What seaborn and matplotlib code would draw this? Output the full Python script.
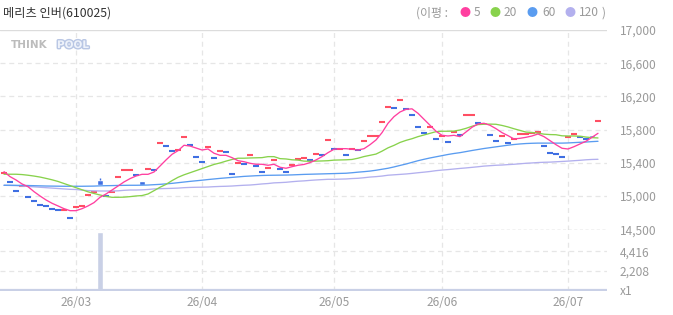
import numpy as np
import matplotlib
matplotlib.use('Agg')
import matplotlib.pyplot as plt
import matplotlib.patheffects as pe
import seaborn as sns

sns.set_style('white')
plt.rcParams['font.family'] = ['Noto Sans CJK KR', 'DejaVu Sans']

# ---- data ----
title = '메리츠 인버(610025)'
month_labels = ['26/03', '26/04', '26/05', '26/06', '26/07']
month_idx = [12, 33, 55, 73, 94]

closes = [15277, 15169, 15060, 15120, 14985, 14940, 14890, 14875, 14843, 14830,
          14835, 14731, 14864, 14876, 15008, 15048, 15133, 15000, 15052, 15225,
          15310, 15310, 15249, 15133, 15322, 15310, 15635, 15599, 15539, 15551,
          15707, 15611, 15466, 15406, 15588, 15455, 15539, 15527, 15261, 15394,
          15382, 15490, 15358, 15286, 15334, 15430, 15322, 15286, 15370, 15442,
          15455, 15430, 15502, 15490, 15671, 15563, 15563, 15490, 15563, 15554,
          15659, 15719, 15719, 15888, 16069, 16057, 16153, 16045, 15972, 15828,
          15755, 15828, 15683, 15723, 15647, 15768, 15731, 15972, 15972, 15876,
          15895, 15731, 15659, 15723, 15635, 15683, 15747, 15747, 15760, 15768,
          15599, 15515, 15502, 15466, 15707, 15743, 15707, 15683, 15707, 15900]

# days that had a real candle body (open differs from close)
body_idx = [16, 23, 80, 98]
body_open = [15193, 15181, 15870, 15735]
wick_idx = [16]
wick_high = [15217]

ma5 = [15293, 15233, 15193, 15145, 15112, 15052, 15000, 14952, 14912, 14880,
       14847, 14823, 14823, 14847, 14880, 14920, 14984, 15024, 15072, 15120,
       15169, 15209, 15241, 15261, 15261, 15289, 15361, 15434, 15502, 15546,
       15611, 15602, 15578, 15554, 15566, 15515, 15490, 15490, 15462, 15425,
       15413, 15394, 15382, 15382, 15370, 15382, 15346, 15334, 15353, 15370,
       15380, 15402, 15434, 15474, 15522, 15563, 15570, 15570, 15563, 15554,
       15570, 15618, 15675, 15763, 15876, 15956, 16012, 16044, 16050, 15996,
       15924, 15852, 15780, 15731, 15723, 15731, 15715, 15771, 15828, 15868,
       15876, 15852, 15811, 15763, 15727, 15687, 15695, 15707, 15723, 15747,
       15715, 15667, 15618, 15575, 15566, 15594, 15627, 15659, 15707, 15755]

ma20 = [15262, 15262, 15262, 15258, 15250, 15240, 15228, 15212, 15195, 15175,
        15150, 15125, 15100, 15075, 15050, 15030, 15012, 14995, 14984, 14984,
        14986, 14992, 15000, 15005, 15024, 15064, 15105, 15140, 15185, 15225,
        15255, 15280, 15305, 15330, 15355, 15380, 15398, 15420, 15440, 15455,
        15455, 15458, 15460, 15462, 15474, 15474, 15450, 15446, 15436, 15432,
        15420, 15418, 15420, 15422, 15425, 15432, 15434, 15436, 15440, 15455,
        15475, 15490, 15505, 15540, 15580, 15610, 15645, 15670, 15690, 15715,
        15735, 15755, 15775, 15780, 15780, 15782, 15795, 15815, 15840, 15860,
        15864, 15866, 15864, 15850, 15832, 15810, 15790, 15770, 15765, 15757,
        15745, 15740, 15738, 15725, 15723, 15723, 15720, 15710, 15703, 15699]

ma60 = [15129, 15129, 15128, 15127, 15126, 15124, 15122, 15120, 15119, 15118,
        15117, 15117, 15117, 15117, 15118, 15119, 15122, 15124, 15125, 15127,
        15128, 15129, 15129, 15130, 15132, 15136, 15140, 15146, 15152, 15160,
        15168, 15176, 15183, 15190, 15198, 15205, 15212, 15218, 15224, 15230,
        15236, 15240, 15244, 15247, 15249, 15250, 15251, 15252, 15254, 15257,
        15260, 15262, 15264, 15266, 15268, 15270, 15272, 15274, 15280, 15287,
        15293, 15300, 15310, 15322, 15334, 15350, 15368, 15385, 15405, 15425,
        15442, 15458, 15472, 15486, 15500, 15512, 15522, 15535, 15548, 15560,
        15572, 15582, 15592, 15602, 15612, 15620, 15627, 15632, 15635, 15637,
        15637, 15637, 15637, 15637, 15639, 15643, 15647, 15650, 15655, 15659]

ma120 = [15129, 15127, 15125, 15120, 15115, 15110, 15105, 15100, 15095, 15090,
         15085, 15080, 15078, 15070, 15065, 15062, 15060, 15060, 15060, 15062,
         15068, 15072, 15072, 15074, 15078, 15085, 15088, 15090, 15092, 15095,
         15100, 15103, 15105, 15106, 15108, 15112, 15115, 15117, 15120, 15125,
         15129, 15132, 15138, 15145, 15150, 15158, 15161, 15165, 15172, 15178,
         15182, 15188, 15193, 15197, 15201, 15201, 15203, 15205, 15210, 15213,
         15220, 15228, 15233, 15240, 15250, 15255, 15260, 15265, 15272, 15280,
         15287, 15295, 15305, 15312, 15318, 15325, 15332, 15338, 15345, 15352,
         15360, 15365, 15370, 15373, 15378, 15382, 15388, 15394, 15398, 15403,
         15406, 15408, 15412, 15416, 15420, 15425, 15430, 15436, 15440, 15442]

volume = [0, 0, 0, 0, 0, 0, 0, 0, 0, 0,
          0, 0, 0, 0, 0, 0, 6624, 0, 0, 0,
          0, 0, 0, 0, 0, 0, 0, 0, 0, 0,
          0, 0, 0, 0, 0, 0, 0, 0, 0, 0,
          0, 0, 0, 0, 0, 0, 0, 0, 0, 0,
          0, 0, 0, 0, 0, 0, 0, 0, 0, 0,
          0, 0, 0, 0, 0, 0, 0, 0, 0, 0,
          0, 0, 0, 0, 0, 0, 0, 0, 0, 0,
          0, 0, 0, 0, 0, 0, 0, 0, 0, 0,
          0, 0, 0, 0, 0, 0, 0, 0, 0, 0]

price_ticks = [15000, 15400, 15800, 16200, 16600, 17000]
price_floor, price_floor_label = 14590, '14,500'
vol_ticks = [0, 2208, 4416]
vol_tick_labels = ['x1', '2,208', '4,416']

ma_labels = ['5', '20', '60', '120']
ma_colors = ['#ff3fa0', '#88d24c', '#5a9cf0', '#b3b0ee']
up_color, down_color = '#ff4f63', '#3f6fe2'
vol_color = '#c9d0e6'
grid_color = '#e6e6e6'
label_color = '#9a9a9a'

# ---- layout helpers (pixel rects) ----
W, H = 673, 315
def px_rect(x0, y0, x1, y1):
    return [x0 / W, 1 - y1 / H, (x1 - x0) / W, (y1 - y0) / H]

fig = plt.figure(figsize=(W / 100, H / 100), dpi=100)
ax = fig.add_axes(px_rect(0, 30, 607, 230))
axv = fig.add_axes(px_rect(0, 230, 607, 291), sharex=ax)

idx = np.arange(len(closes))
closes_a = np.array(closes, dtype=float)
opens_a = closes_a.copy()
opens_a[body_idx] = body_open
prev = np.concatenate([[closes_a[0]], closes_a[:-1]])
is_up = np.where(opens_a != closes_a, closes_a > opens_a, closes_a >= prev)
colors = np.where(is_up, up_color, down_color)

dash_style = (0, (4, 3))

# ---- price panel ----
for t in price_ticks[:-1]:
    ax.axhline(t, color=grid_color, lw=0.9, ls=dash_style, zorder=0)
for m in month_idx:
    ax.axvline(m, color=grid_color, lw=0.9, ls=dash_style, zorder=0)
ax.axhline(price_ticks[-1], color='#dcdcdc', lw=1.0, zorder=0)
ax.axhline(price_floor, color='#9a9a9a', lw=0.9, ls=(0, (2.5, 2)), zorder=1, clip_on=False)

dash_mask = opens_a == closes_a
ax.hlines(closes_a[dash_mask], idx[dash_mask] - 0.42, idx[dash_mask] + 0.42,
          colors=colors[dash_mask], lw=1.5, zorder=2)
for i, o in zip(body_idx, body_open):
    c = closes_a[i]
    ax.bar(i, abs(c - o), bottom=min(o, c), width=0.84, color=colors[i], zorder=2)
for i, h in zip(wick_idx, wick_high):
    ax.vlines(i, max(opens_a[i], closes_a[i]), h, color=colors[i], lw=1, zorder=2)

for ma, col in zip([ma120, ma60, ma20, ma5], ma_colors[::-1]):
    sns.lineplot(x=idx, y=ma, color=col, lw=0.95, ax=ax, zorder=3)

ax.set_xlim(-0.67, 100.5)
ax.set_ylim(price_floor, price_ticks[-1])
ax.yaxis.tick_right()
ax.set_yticks([price_floor] + price_ticks)
ax.set_yticklabels([price_floor_label] + [f'{t:,}' for t in price_ticks])
ax.tick_params(axis='y', length=0, pad=9, labelsize=8.6, labelcolor=label_color)
ax.tick_params(axis='x', bottom=False, labelbottom=False)
ax.set_xlabel('')
ax.set_ylabel('')
for s in ax.spines.values():
    s.set_visible(False)

# ---- volume panel ----
for t in vol_ticks[1:]:
    axv.axhline(t, color=grid_color, lw=0.9, ls=dash_style, zorder=0)
for m in month_idx:
    axv.axvline(m, color=grid_color, lw=0.9, ls=dash_style, zorder=0)
axv.bar(idx, volume, width=0.84, color=vol_color, zorder=2)
axv.axhline(0, color=vol_color, lw=1.6, zorder=2)
axv.set_ylim(-120, 6852)
axv.yaxis.tick_right()
axv.set_yticks(vol_ticks)
axv.set_yticklabels(vol_tick_labels)
axv.tick_params(axis='y', length=0, pad=9, labelsize=8.6, labelcolor=label_color)
axv.set_xticks(month_idx)
axv.set_xticklabels(month_labels)
axv.tick_params(axis='x', length=0, pad=3.5, labelsize=8.6, labelcolor=label_color)
for s in axv.spines.values():
    s.set_visible(False)

# ---- header: title, MA legend, watermark ----
fig.text(3 / W, 1 - 13 / H, title, fontsize=8.8, color='#333333', va='center', ha='left')

fig.text(416 / W, 1 - 13 / H, '(이평 :', fontsize=8.6, color=label_color, va='center')
dot_x = [465, 495, 532, 570]
lab_x = [474, 504, 542, 579]
for dx, lx, lab, col in zip(dot_x, lab_x, ma_labels, ma_colors):
    fig.text(dx / W, 1 - 13 / H, '●', fontsize=8, color=col, va='center', ha='center')
    fig.text(lx / W, 1 - 13 / H, lab, fontsize=8.6, color=label_color, va='center')
fig.text(602 / W, 1 - 13 / H, ')', fontsize=8.6, color=label_color, va='center')

fig.text(11 / W, 1 - 45 / H, 'THINK', fontsize=7.5, fontweight='bold',
         color='#bcbcbc', va='center', family=['DejaVu Sans'])
fig.text(57 / W, 1 - 45 / H, 'POOL', fontsize=7.5, fontweight='bold',
         color='#eef2fa', va='center', family=['DejaVu Sans'],
         path_effects=[pe.withStroke(linewidth=2, foreground='#b8c6e4')])

fig.savefig('out.png', dpi=100)
